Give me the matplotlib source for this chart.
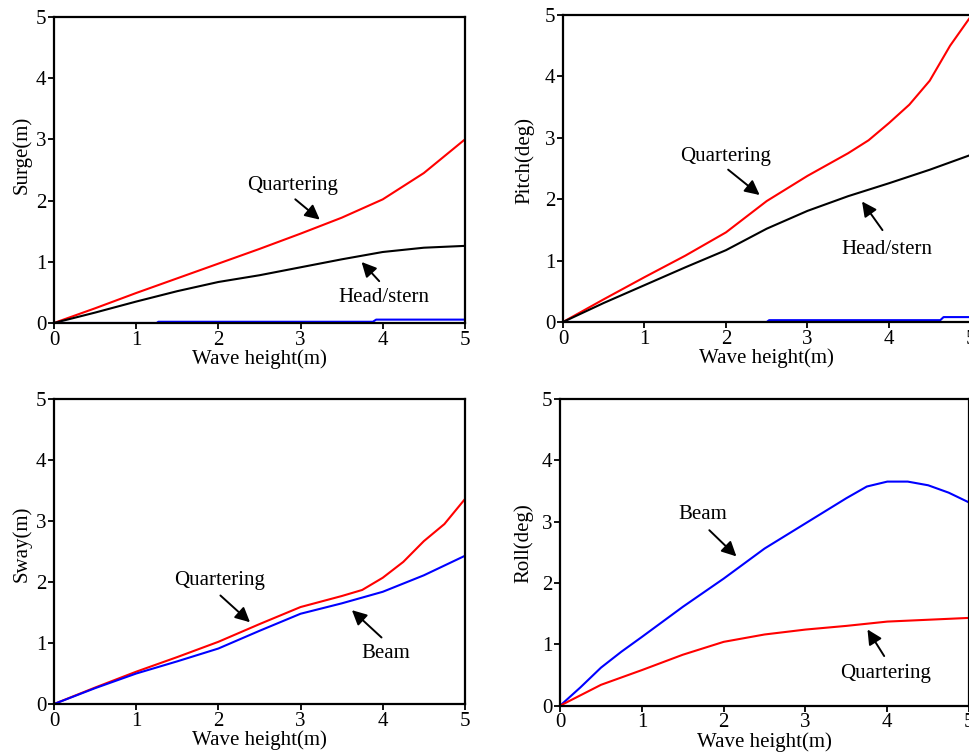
import matplotlib
matplotlib.use("Agg")
import matplotlib.pyplot as plt

plt.rcParams["font.family"] = ["Liberation Serif", "DejaVu Serif"]

# wave height grid used by each read-off series
surge_x = [0, 0.5, 1, 1.5, 2, 2.5, 3, 3.5, 4, 4.5, 5]
surge_quartering = [0, 0.24, 0.49, 0.73, 0.97, 1.21, 1.46, 1.72, 2.02, 2.45, 3.0]
surge_head = [0, 0.17, 0.35, 0.52, 0.67, 0.78, 0.91, 1.04, 1.16, 1.23, 1.26]
surge_beam_x = [0, 1.25, 1.27, 3.88, 3.92, 5]
surge_beam = [0, 0, 0.02, 0.02, 0.055, 0.055]

pitch_qx = [0, 0.5, 1, 1.5, 2, 2.5, 3, 3.5, 3.75, 4, 4.25, 4.5, 4.75, 5]
pitch_quartering = [0, 0.37, 0.73, 1.08, 1.46, 1.97, 2.38, 2.75, 2.96, 3.24, 3.54, 3.93, 4.5, 4.97]
pitch_hx = [0, 0.5, 1, 1.5, 2, 2.5, 3, 3.5, 4, 4.5, 5]
pitch_head = [0, 0.31, 0.6, 0.89, 1.17, 1.52, 1.81, 2.05, 2.26, 2.48, 2.72]
pitch_beam_x = [0, 2.5, 2.53, 4.63, 4.67, 5]
pitch_beam = [0, 0, 0.03, 0.03, 0.08, 0.08]

sway_qx = [0, 0.5, 1, 1.5, 2, 2.5, 3, 3.5, 3.75, 4, 4.25, 4.5, 4.75, 5]
sway_quartering = [0, 0.27, 0.53, 0.77, 1.02, 1.31, 1.59, 1.77, 1.87, 2.07, 2.33, 2.67, 2.95, 3.36]
sway_bx = [0, 0.5, 1, 1.5, 2, 2.5, 3, 3.5, 4, 4.5, 5]
sway_beam = [0, 0.26, 0.5, 0.7, 0.91, 1.2, 1.48, 1.65, 1.84, 2.11, 2.43]

roll_bx = [0, 0.25, 0.5, 0.75, 1, 1.5, 2, 2.5, 3, 3.5, 3.75, 4, 4.25, 4.5, 4.75, 5]
roll_beam = [0, 0.3, 0.62, 0.88, 1.12, 1.61, 2.07, 2.56, 2.97, 3.38, 3.57, 3.65, 3.65, 3.59, 3.47, 3.31]
roll_qx = [0, 0.5, 1, 1.5, 2, 2.5, 3, 3.5, 4, 4.5, 5]
roll_quartering = [0, 0.34, 0.58, 0.83, 1.04, 1.16, 1.24, 1.30, 1.37, 1.40, 1.43]

ticks = [0, 1, 2, 3, 4, 5]

fig = plt.figure(figsize=(9.69, 7.55), dpi=100)


def setup(ax, ylabel, ylab_pos):
    ax.set_xlim(0, 5)
    ax.set_ylim(0, 5)
    ax.set_xticks(ticks)
    ax.set_yticks(ticks)
    ax.tick_params(direction="out", length=4, width=1.3, labelsize=15, pad=1.5,
                   top=False, right=False)
    for s in ax.spines.values():
        s.set_linewidth(1.6)
    ax.set_xlabel("Wave height(m)", fontsize=15)
    ax.set_ylabel(ylabel, fontsize=15)
    ax.xaxis.set_label_coords(0.5, -0.085)
    ax.yaxis.set_label_coords(*ylab_pos)


def note(ax, text, xy, xytext, textpos):
    ax.annotate("", xy=xy, xytext=xytext,
                arrowprops=dict(arrowstyle="-|>", color="black", lw=1.4,
                                mutation_scale=22))
    ax.text(textpos[0], textpos[1], text, fontsize=15, ha="center", va="center")


lw = 1.5

ax1 = fig.add_axes([0.0557, 0.5722, 0.4241, 0.4053])
ax1.plot(surge_x, surge_quartering, color="red", lw=lw)
ax1.plot(surge_x, surge_head, color="black", lw=lw)
ax1.plot(surge_beam_x, surge_beam, color="blue", lw=lw)
setup(ax1, "Surge(m)", (-0.054, 0.55))
note(ax1, "Quartering", (3.26, 1.66), (2.91, 2.05), (2.9, 2.24))
note(ax1, "Head/stern", (3.72, 1.03), (3.98, 0.65), (4.01, 0.41))

ax2 = fig.add_axes([0.581, 0.5735, 0.4205, 0.4066])
ax2.plot(pitch_qx, pitch_quartering, color="red", lw=lw)
ax2.plot(pitch_hx, pitch_head, color="black", lw=lw)
ax2.plot(pitch_beam_x, pitch_beam, color="blue", lw=lw)
setup(ax2, "Pitch(deg)", (-0.069, 0.525))
note(ax2, "Quartering", (2.44, 2.04), (2.0, 2.51), (1.99, 2.70))
note(ax2, "Head/stern", (3.65, 2.0), (3.94, 1.46), (3.98, 1.18))

ax3 = fig.add_axes([0.0557, 0.0675, 0.4241, 0.404])
ax3.plot(sway_qx, sway_quartering, color="red", lw=lw)
ax3.plot(sway_bx, sway_beam, color="blue", lw=lw)
setup(ax3, "Sway(m)", (-0.054, 0.525))
note(ax3, "Quartering", (2.41, 1.31), (2.0, 1.81), (2.02, 2.03))
note(ax3, "Beam", (3.6, 1.57), (4.01, 1.06), (4.04, 0.83))

ax4 = fig.add_axes([0.578, 0.0653, 0.4221, 0.4066])
ax4.plot(roll_bx, roll_beam, color="blue", lw=lw)
ax4.plot(roll_qx, roll_quartering, color="red", lw=lw)
setup(ax4, "Roll(deg)", (-0.066, 0.528))
note(ax4, "Beam", (2.18, 2.40), (1.80, 2.89), (1.75, 3.11))
note(ax4, "Quartering", (3.74, 1.28), (3.98, 0.77), (3.98, 0.52))

fig.savefig("out.png", dpi=100)
